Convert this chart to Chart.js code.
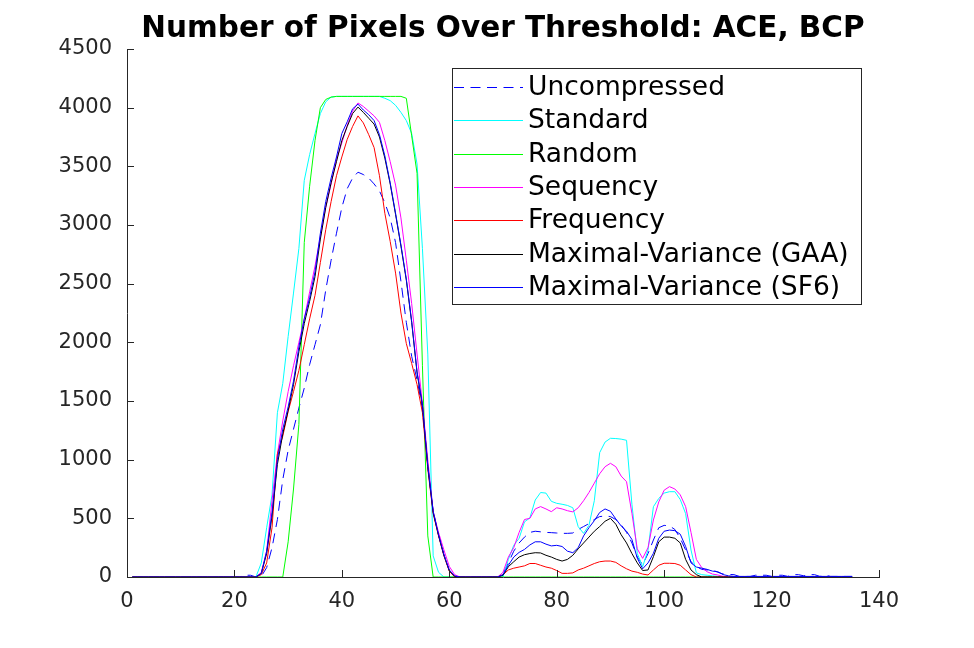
<!DOCTYPE html>
<html>
<head>
<meta charset="utf-8">
<script src="https://cdn.jsdelivr.net/npm/chart.js@4.4.1/dist/chart.umd.min.js"></script>
<style>
  html, body { margin: 0; padding: 0; background: #fff; }
  #wrap { width: 974px; height: 648px; }
</style>
</head>
<body>
<div id="wrap"><canvas id="c" width="974" height="648"></canvas></div>
<script>
// ---- Data ----
const frames = [
  1,2,3,4,5,6,7,8,9,10,11,12,13,14,15,16,17,18,19,20,
  21,22,23,24,25,26,27,28,29,30,31,32,33,34,35,36,37,38,39,40,
  41,42,43,44,45,46,47,48,49,50,51,52,53,54,55,56,57,58,59,60,
  61,62,63,64,65,66,67,68,69,70,71,72,73,74,75,76,77,78,79,80,
  81,82,83,84,85,86,87,88,89,90,91,92,93,94,95,96,97,98,99,100,
  101,102,103,104,105,106,107,108,109,110,111,112,113,114,115,116,117,118,119,120,
  121,122,123,124,125,126,127,128,129,130,131,132,133,134,135
];

const uncompressed = [
  0,0,0,0,0,0,0,0,0,0,
  0,0,0,0,0,0,0,0,0,0,
  0,15,15,0,5,80,250,490,830,1080,
  1260,1440,1610,1810,1980,2150,2446,2700,2930,3150,
  3310,3400,3450,3430,3400,3350,3290,3190,3060,2850,
  2520,2170,1880,1680,1430,940,560,360,190,55,
  0,0,0,0,0,0,0,0,0,30,
  120,220,290,340,380,390,385,380,378,375,
  372,372,375,405,430,455,490,515,520,515,
  490,445,380,290,170,105,200,315,420,440,
  435,405,330,230,130,88,65,60,60,40,
  25,22,20,5,5,5,15,15,15,5,
  15,15,5,20,20,10,20,20,5,15,
  5,5,5,5,5
];

const standard = [
  0,0,0,0,0,0,0,0,0,0,
  0,0,0,0,0,0,0,0,0,0,
  0,0,0,0,120,420,700,1400,1650,2050,
  2420,2800,3380,3600,3780,3950,4050,4090,4096,4096,
  4096,4096,4096,4096,4096,4096,4096,4080,4060,4020,
  3960,3890,3780,3520,2800,1900,180,40,0,0,
  0,0,0,0,0,0,0,0,0,0,
  150,270,330,470,503,656,720,715,645,628,
  620,610,590,429,372,440,650,1060,1150,1182,
  1180,1175,1165,620,200,88,230,599,670,715,
  727,727,660,540,230,35,20,15,10,5,
  0,0,0,0,0,0,0,0,0,0,
  0,0,0,0,0,0,0,0,0,0,
  0,0,0,0,0
];

const random = [
  0,0,0,0,0,0,0,0,0,0,
  0,0,0,0,0,0,0,0,0,0,
  0,0,0,0,0,0,0,0,0,300,
  750,1300,2850,3330,3720,4000,4070,4090,4096,4096,
  4096,4096,4096,4096,4096,4096,4096,4096,4096,4096,
  4096,4080,3760,3440,1800,350,0,0,0,0,
  0,0,0,0,0,0,0,0,0,0,
  0,0,0,0,0,0,0,0,0,0,
  0,0,0,0,0,0,0,0,0,0,
  0,0,0,0,0,0,0,0,0,0,
  0,0,0,0,0,0,0,0,0,0,
  0,0,0,0,0,0,0,0,0,0,
  0,0,0,0,0,0,0,0,0,0,
  0,0,0,0,0
];

const sequency = [
  0,0,0,0,0,0,0,0,0,0,
  0,0,0,0,0,0,0,0,0,0,
  0,0,0,0,40,220,650,1050,1330,1580,
  1800,2000,2200,2430,2650,2900,3150,3350,3560,3700,
  3850,3970,4040,4010,3970,3930,3875,3720,3540,3340,
  3060,2700,2330,1900,1480,1000,560,380,230,90,
  20,0,0,0,0,0,0,0,0,40,
  170,250,380,490,500,580,600,580,557,590,
  580,565,555,590,650,720,800,880,940,969,
  940,860,812,543,240,159,250,486,640,740,
  770,750,700,600,380,150,80,45,25,17,
  5,0,0,0,0,0,0,0,0,0,
  0,0,0,0,0,0,0,0,0,0,
  0,0,0,0,0
];

const frequency = [
  0,0,0,0,0,0,0,0,0,0,
  0,0,0,0,0,0,0,0,0,0,
  0,0,0,0,20,120,420,1050,1200,1410,
  1580,1760,1980,2200,2400,2680,2960,3200,3420,3580,
  3730,3840,3930,3870,3770,3660,3420,3100,2860,2590,
  2250,1990,1820,1640,1400,920,540,350,180,50,
  0,0,0,0,0,0,0,0,0,20,
  60,75,85,95,115,115,100,85,75,55,
  31,31,35,60,75,95,115,130,136,136,
  125,95,70,50,40,25,17,60,100,117,
  117,115,100,60,20,0,0,0,0,0,
  0,0,0,0,0,0,0,0,0,0,
  0,0,0,0,0,0,0,0,0,0,
  0,0,0,0,0
];

const maxVarGAA = [
  0,0,0,0,0,0,0,0,0,0,
  0,0,0,0,0,0,0,0,0,0,
  0,0,0,0,30,200,520,960,1220,1420,
  1640,1920,2160,2350,2560,2880,3150,3360,3540,3720,
  3840,3950,4005,3960,3910,3860,3750,3570,3350,3090,
  2820,2530,2170,1740,1460,940,550,355,185,55,
  5,0,0,0,0,0,0,0,0,15,
  88,130,170,190,200,207,205,185,170,150,
  136,150,185,240,290,340,390,430,475,500,
  450,360,290,200,120,55,60,173,300,340,
  340,330,290,150,60,20,0,0,0,0,
  0,0,0,0,0,0,0,0,0,0,
  0,0,0,0,0,0,0,0,0,0,
  0,0,0,0,0
];

const maxVarSF6 = [
  0,0,0,0,0,0,0,0,0,0,
  0,0,0,0,0,0,0,0,0,0,
  0,0,0,0,30,220,550,1000,1260,1450,
  1670,1960,2200,2380,2600,2930,3200,3400,3580,3780,
  3880,3990,4030,3980,3940,3890,3770,3590,3360,3100,
  2830,2540,2180,1750,1470,950,560,360,190,60,
  10,0,0,0,0,0,0,0,0,20,
  100,170,210,235,273,300,300,280,265,270,
  260,220,207,250,350,420,480,550,580,560,
  495,435,390,320,160,70,120,202,330,390,
  400,395,365,260,120,85,75,65,50,45,
  20,10,5,5,5,5,5,5,5,5,
  5,5,5,5,5,5,5,5,5,5,
  5,5,5,5,5
];

const seriesNames = [
  'Uncompressed', 'Standard', 'Random', 'Sequency', 'Frequency',
  'Maximal-Variance (GAA)', 'Maximal-Variance (SF6)'
];
const seriesValues = [uncompressed, standard, random, sequency, frequency, maxVarGAA, maxVarSF6];
const seriesColors = ['#0000ff', '#00ffff', '#00ff00', '#ff00ff', '#ff0000', '#000000', '#0000ff'];
const seriesDashes = [[10, 6.5], [], [], [], [], [], []];

const xTickValues = [0, 20, 40, 60, 80, 100, 120, 140];
const yTickValues = [0, 500, 1000, 1500, 2000, 2500, 3000, 3500, 4000, 4500];

const titleText = 'Number of Pixels Over Threshold: ACE, BCP';

// ---- Chart ----
const AXIS_COLOR = '#262626';
const N = seriesNames.length;

const datasets = seriesNames.map((name, i) => ({
  label: name,
  data: frames.map((f, k) => ({ x: f, y: seriesValues[i][k] })),
  borderColor: seriesColors[i],
  backgroundColor: seriesColors[i],
  borderWidth: 1,
  borderDash: seriesDashes[i],
  pointRadius: 0,
  pointHoverRadius: 0,
  tension: 0,
  fill: false,
  order: N - i
}));

const inwardTicks = {
  id: 'inwardTicks',
  afterDatasetsDraw(chart) {
    const { ctx, scales: { x, y }, chartArea: a } = chart;
    ctx.save();
    ctx.strokeStyle = AXIS_COLOR;
    ctx.lineWidth = 1;
    ctx.beginPath();
    x.ticks.forEach(t => {
      const px = Math.round(x.getPixelForValue(t.value)) + 0.5;
      ctx.moveTo(px, a.bottom);
      ctx.lineTo(px, a.bottom - 7);
    });
    y.ticks.forEach(t => {
      const py = Math.round(y.getPixelForValue(t.value)) + 0.5;
      ctx.moveTo(a.left, py);
      ctx.lineTo(a.left + 7, py);
    });
    ctx.stroke();
    ctx.restore();
  }
};

const boxLegend = {
  id: 'boxLegend',
  afterDraw(chart) {
    const ctx = chart.ctx;
    ctx.save();
    const bx = 452.5, by = 68.5, bw = 409, bh = 236;
    ctx.fillStyle = '#ffffff';
    ctx.fillRect(bx, by, bw, bh);
    ctx.strokeStyle = AXIS_COLOR;
    ctx.lineWidth = 1;
    ctx.strokeRect(bx, by, bw, bh);
    ctx.font = '26.5px "DejaVu Sans"';
    ctx.textBaseline = 'middle';
    ctx.textAlign = 'left';
    chart.data.datasets.forEach((ds, i) => {
      const yy = Math.round(86.7 + i * 33.43) + 0.5;
      ctx.strokeStyle = ds.borderColor;
      ctx.lineWidth = 1;
      ctx.setLineDash(ds.borderDash || []);
      ctx.beginPath();
      ctx.moveTo(454, yy);
      ctx.lineTo(523, yy);
      ctx.stroke();
      ctx.setLineDash([]);
      ctx.fillStyle = '#000000';
      ctx.fillText(ds.label, 528, yy + 1);
    });
    ctx.restore();
  }
};

new Chart(document.getElementById('c'), {
  type: 'line',
  data: { datasets },
  options: {
    responsive: false,
    animation: false,
    devicePixelRatio: 1,
    layout: { padding: { left: 0, right: 95, top: 0, bottom: 0 } },
    plugins: {
      legend: { display: false },
      tooltip: { enabled: false },
      title: {
        display: true,
        text: titleText,
        fullSize: false,
        color: '#000000',
        font: { family: 'DejaVu Sans', size: 29.5, weight: 'bold' },
        padding: { top: 12, bottom: 1.6 }
      }
    },
    scales: {
      x: {
        type: 'linear',
        min: 0,
        max: 140,
        afterFit(s) { s.height = 71; },
        afterBuildTicks(s) { s.ticks = xTickValues.map(v => ({ value: v })); },
        grid: { display: false },
        border: { display: true, color: AXIS_COLOR, width: 1 },
        ticks: {
          autoSkip: false,
          maxRotation: 0,
          padding: 4,
          color: AXIS_COLOR,
          font: { family: 'DejaVu Sans', size: 21 },
          callback: v => String(v)
        }
      },
      y: {
        type: 'linear',
        min: 0,
        max: 4500,
        afterFit(s) { s.width = 127; },
        afterBuildTicks(s) { s.ticks = yTickValues.map(v => ({ value: v })); },
        grid: { display: false },
        border: { display: true, color: AXIS_COLOR, width: 1 },
        ticks: {
          autoSkip: false,
          padding: 7,
          color: AXIS_COLOR,
          font: { family: 'DejaVu Sans', size: 21 },
          callback: v => String(v)
        }
      }
    }
  },
  plugins: [inwardTicks, boxLegend]
});
</script>
</body>
</html>
